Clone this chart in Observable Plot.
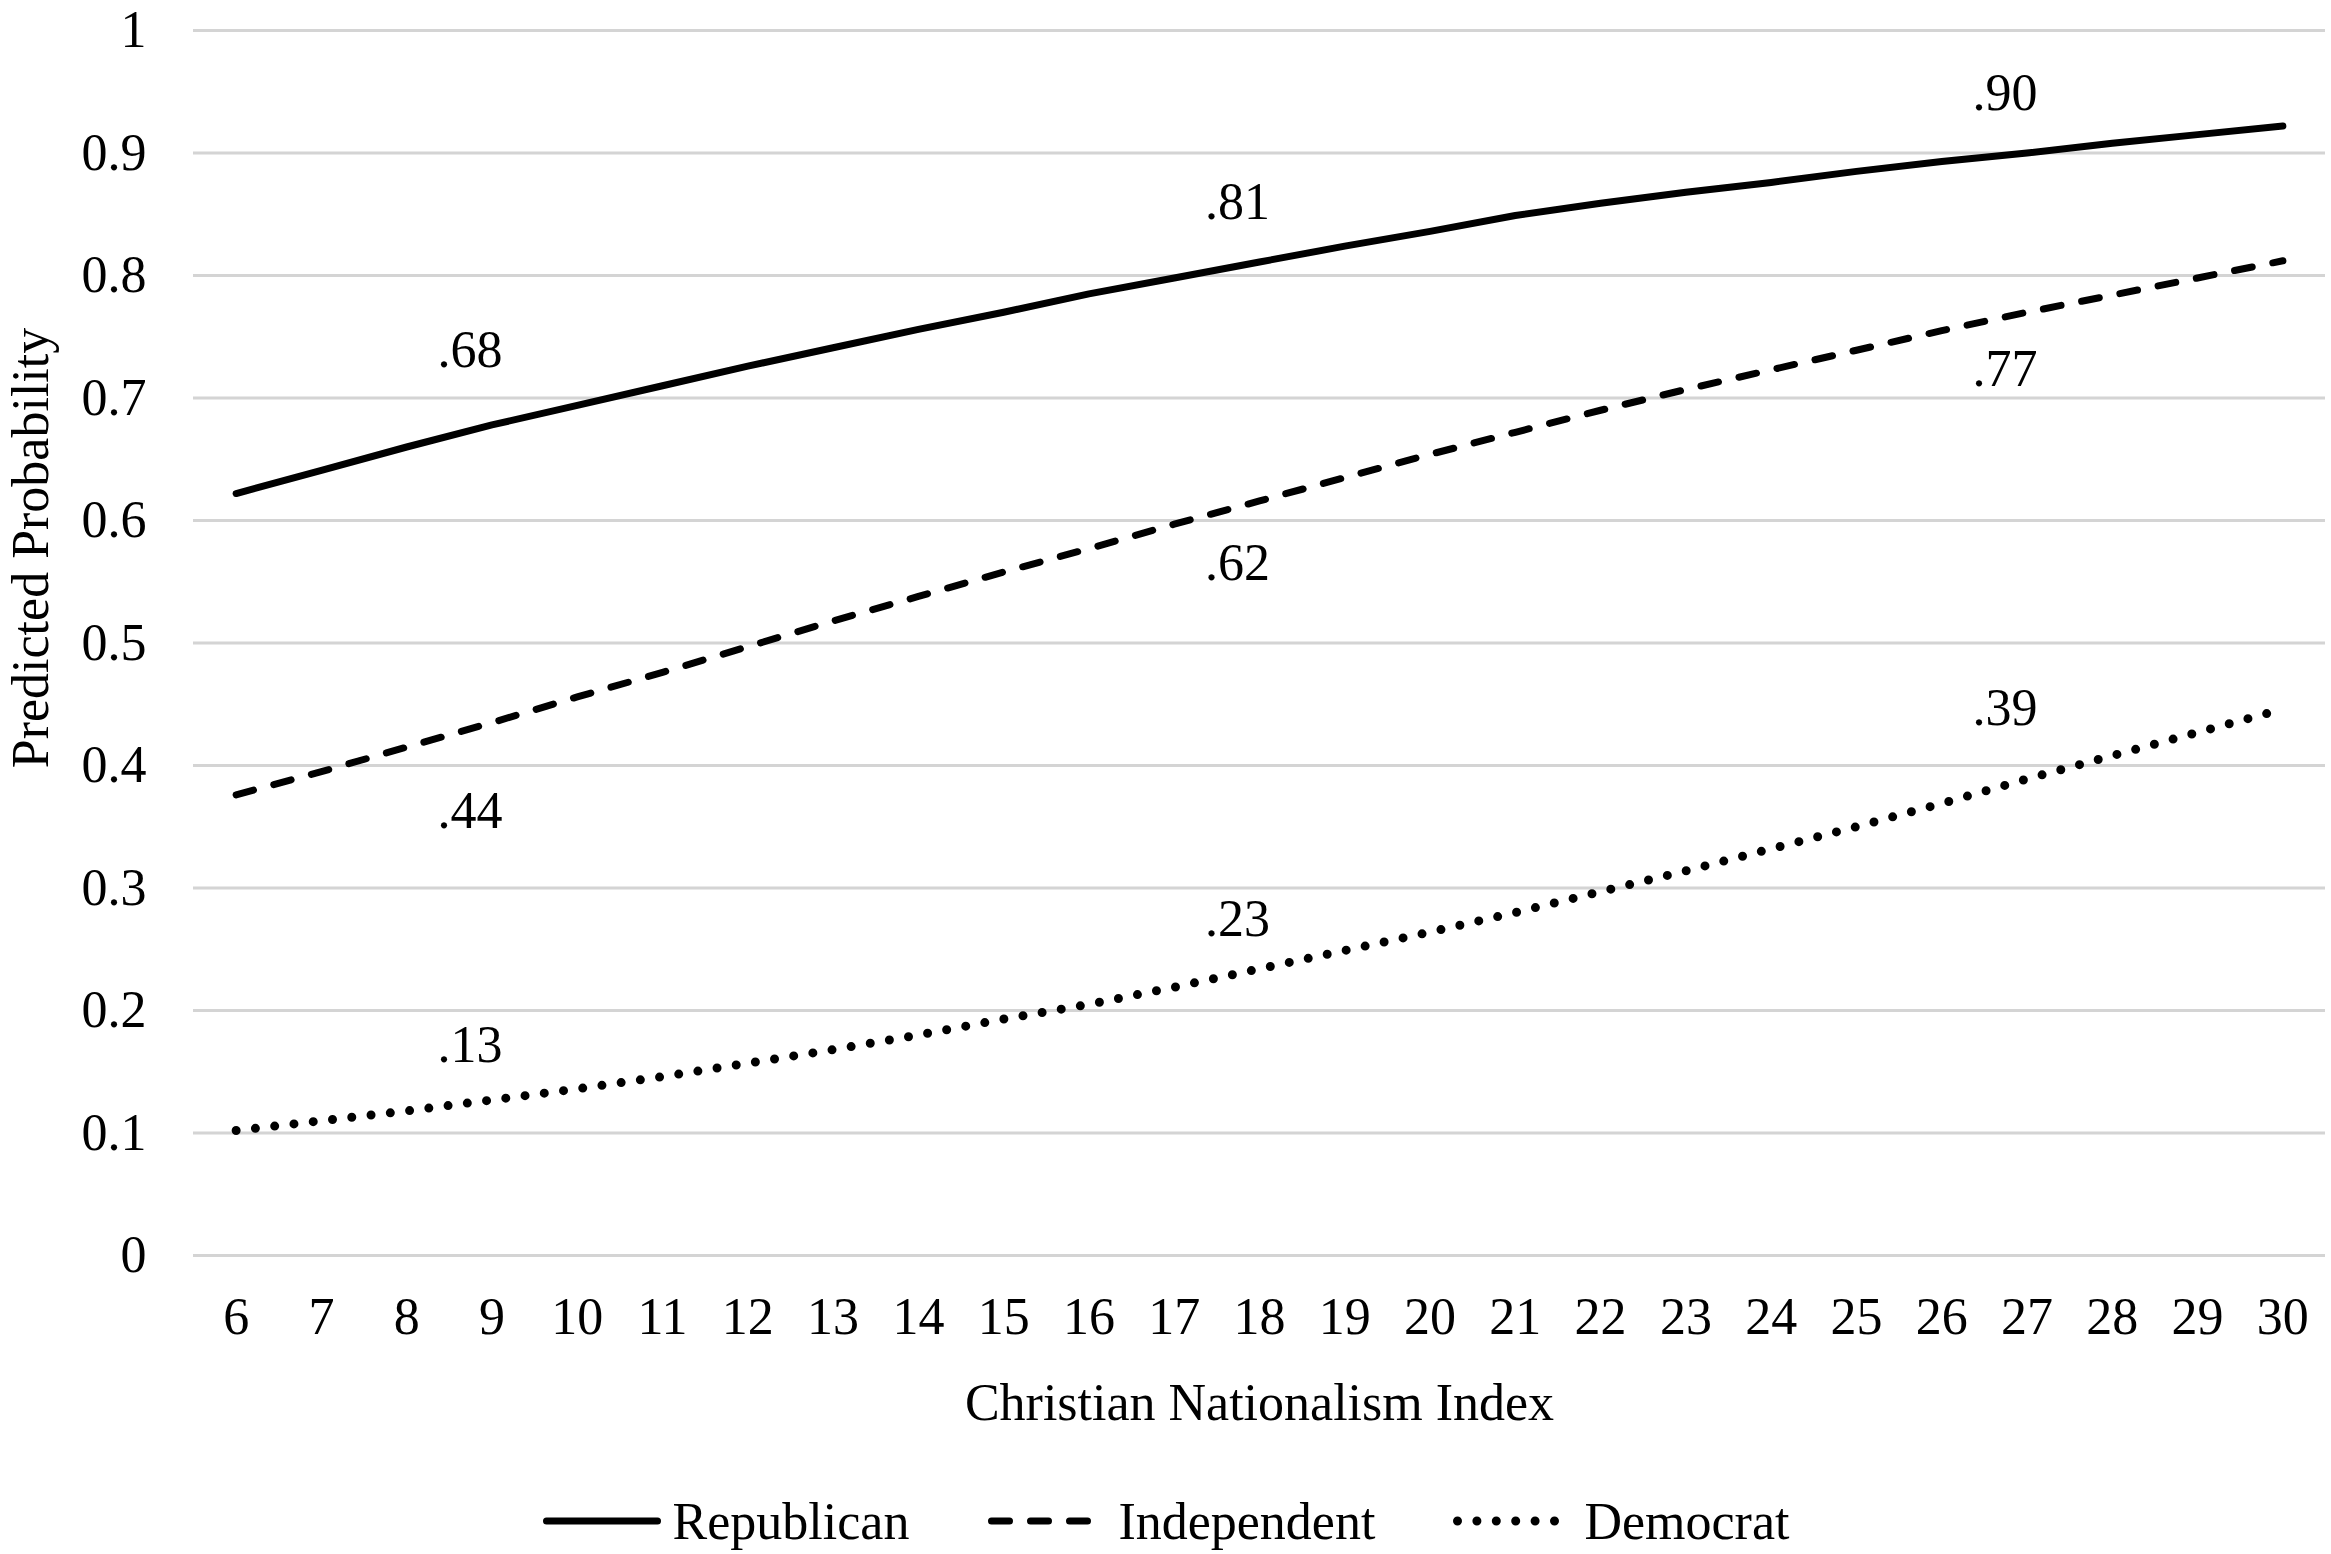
<!DOCTYPE html>
<html>
<head>
<meta charset="utf-8">
<script src="https://cdn.jsdelivr.net/npm/d3@7"></script>
<script src="https://cdn.jsdelivr.net/npm/@observablehq/plot@0.6"></script>
<style>
  html, body { margin: 0; padding: 0; background: #fff; }
  #chart svg { display: block; }
  #legend {
    width: 2331px; height: 102px; display: flex; justify-content: center; align-items: center;
    gap: 78px; font-family: "Liberation Serif", "Times New Roman", serif; font-size: 52px; color: #000;
  }
  .item { display: flex; align-items: center; }
  .item svg { display: block; margin-right: 11px; }
</style>
</head>
<body>
<div id="chart"></div>
<div id="legend"></div>
<script>
// Christian Nationalism Index values (x categories)
const cnIndex = [6, 7, 8, 9, 10, 11, 12, 13, 14, 15, 16, 17, 18, 19, 20, 21, 22, 23, 24, 25, 26, 27, 28, 29, 30];
// Predicted probabilities
const republican = [0.622, 0.641, 0.660, 0.678, 0.694, 0.710, 0.726, 0.741, 0.756, 0.770, 0.785, 0.798, 0.811, 0.824, 0.836, 0.849, 0.859, 0.868, 0.876, 0.885, 0.893, 0.900, 0.908, 0.915, 0.922];
const independent = [0.376, 0.395, 0.415, 0.435, 0.456, 0.476, 0.497, 0.518, 0.538, 0.558, 0.577, 0.597, 0.616, 0.635, 0.654, 0.672, 0.690, 0.707, 0.723, 0.739, 0.755, 0.770, 0.784, 0.798, 0.812];
const democrat = [0.102, 0.110, 0.118, 0.127, 0.136, 0.146, 0.157, 0.168, 0.180, 0.193, 0.205, 0.219, 0.234, 0.249, 0.264, 0.280, 0.297, 0.314, 0.332, 0.350, 0.369, 0.389, 0.408, 0.427, 0.446];
// Data labels
const labelAt = [9, 18, 27];
const repLabels = [".68", ".81", ".90"];
const indLabels = [".44", ".62", ".77"];
const demLabels = [".13", ".23", ".39"];
// Tick labels
const yTicks = [0, 0.1, 0.2, 0.3, 0.4, 0.5, 0.6, 0.7, 0.8, 0.9, 1];
const yTickText = ["0", "0.1", "0.2", "0.3", "0.4", "0.5", "0.6", "0.7", "0.8", "0.9", "1"];
const seriesNames = ["Republican", "Independent", "Democrat"];

const seriesValues = {Republican: republican, Independent: independent, Democrat: democrat};
const seriesLabels = {Republican: repLabels, Independent: indLabels, Democrat: demLabels};
const styles = {
  Republican: {strokeWidth: 7, strokeDasharray: null},
  Independent: {strokeWidth: 7, strokeDasharray: "18 21"},
  Democrat: {strokeWidth: 9, strokeDasharray: "0 19.4"}
};
// vertical placement of each data label relative to its point (pixels)
const labelDy = {Republican: [-75, -60, -60], Independent: [89, 62, 57], Democrat: [-55, -49, -71]};

const font = '"Liberation Serif", "Times New Roman", serif';

const lineMarks = seriesNames.map(name => {
  const rows = cnIndex.map((x, i) => ({x, y: seriesValues[name][i]}));
  return Plot.line(rows, {
    x: "x", y: "y", stroke: "#000", strokeWidth: styles[name].strokeWidth,
    strokeDasharray: styles[name].strokeDasharray, strokeLinecap: "round", strokeLinejoin: "round"
  });
});

const labelMarks = seriesNames.flatMap(name =>
  labelAt.map((x, i) => Plot.text([{x, y: seriesValues[name][cnIndex.indexOf(x)], text: seriesLabels[name][i]}], {
    x: "x", y: "y", text: "text", dy: labelDy[name][i], dx: -22,
    fontSize: 52, fill: "#000", fontFamily: font
  }))
);

const chart = Plot.plot({
  width: 2331,
  height: 1470,
  marginLeft: 193,
  marginRight: 6,
  marginTop: 30,
  marginBottom: 215,
  style: {fontFamily: font, fontSize: "52px", background: "#fff", color: "#000"},
  x: {type: "linear", domain: [5.5, 30.5]},
  y: {domain: [0, 1]},
  marks: [
    Plot.gridY(yTicks, {stroke: "#d4d4d4", strokeOpacity: 1, strokeWidth: 3}),
    Plot.axisY(yTicks, {tickSize: 0, tickPadding: 47, fontSize: 52, label: null,
      tickFormat: d => yTickText[yTicks.indexOf(d)]}),
    Plot.axisX(cnIndex, {tickSize: 0, tickPadding: 42, fontSize: 52, label: null, tickFormat: d => String(d)}),
    ...lineMarks,
    ...labelMarks,
    Plot.text(["Christian Nationalism Index"], {frameAnchor: "bottom", textAnchor: "middle", dy: 164, fontSize: 52, fontFamily: font, fill: "#000"}),
    Plot.text(["Predicted Probability"], {frameAnchor: "left", textAnchor: "middle", rotate: -90, dx: -162, dy: -95, fontSize: 52, fontFamily: font, fill: "#000"})
  ]
});
document.getElementById("chart").appendChild(chart);

// Legend
const legend = document.getElementById("legend");
seriesNames.forEach(name => {
  const item = document.createElement("div");
  item.className = "item";
  const s = styles[name];
  item.innerHTML = `<svg width="120" height="24"><line x1="4.5" y1="12" x2="${name === "Republican" ? 115.5 : 119}" y2="12" stroke="#000" stroke-width="${s.strokeWidth}" stroke-linecap="round" ${s.strokeDasharray ? `stroke-dasharray="${s.strokeDasharray}"` : ""}/></svg><span>${name}</span>`;
  legend.appendChild(item);
});
</script>
</body>
</html>
